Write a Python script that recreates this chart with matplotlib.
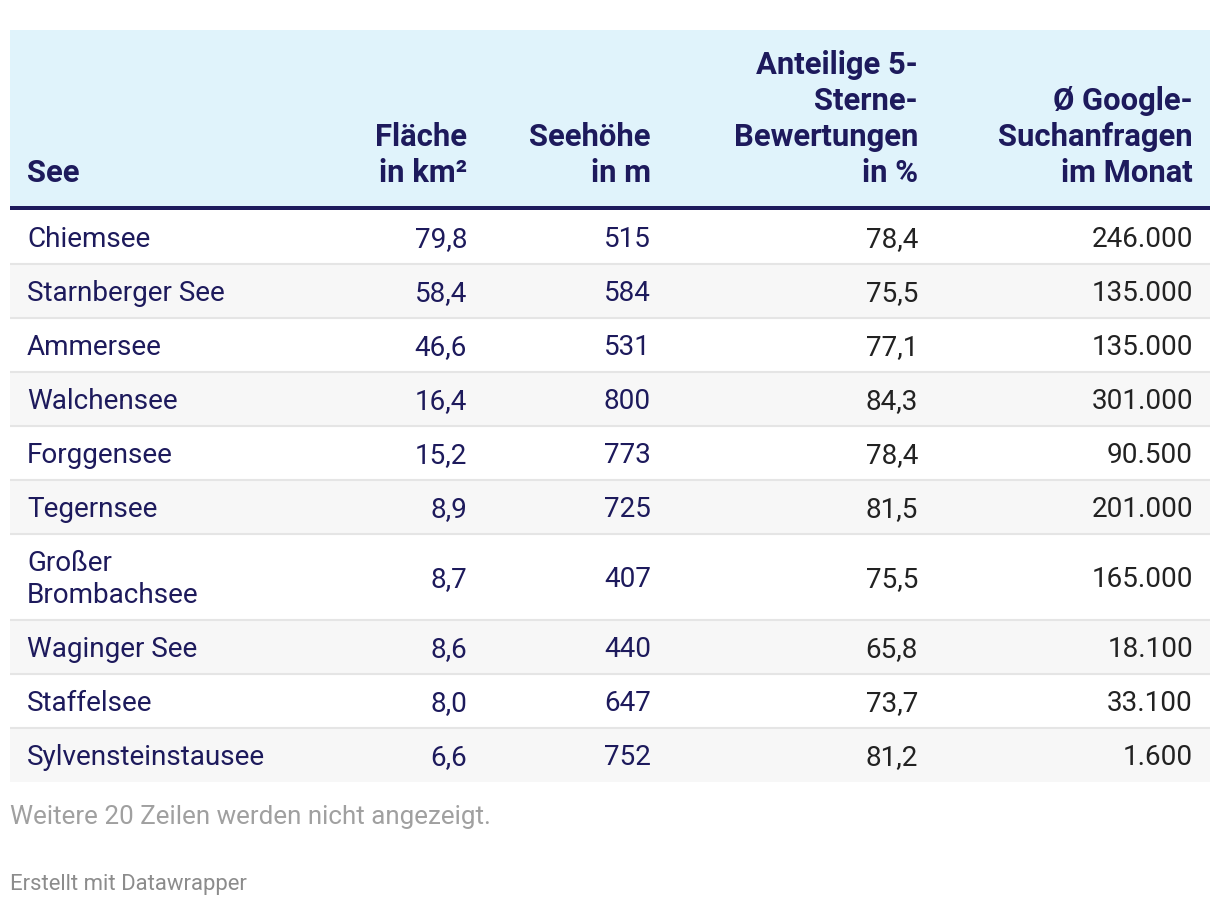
import textwrap
import matplotlib.pyplot as plt
from matplotlib.patches import Rectangle

# Daten: die 10 größten Seen in Bayern
seen = ["Chiemsee", "Starnberger See", "Ammersee", "Walchensee", "Forggensee",
        "Tegernsee", "Großer Brombachsee", "Waginger See", "Staffelsee",
        "Sylvensteinstausee"]
flaeche = [79.8, 58.4, 46.6, 16.4, 15.2, 8.9, 8.7, 8.6, 8.0, 6.6]
seehoehe = [515, 584, 531, 800, 773, 725, 407, 440, 647, 752]
sterne = [78.4, 75.5, 77.1, 84.3, 78.4, 81.5, 75.5, 65.8, 73.7, 81.2]
google = [246000, 135000, 135000, 301000, 90500, 201000, 165000, 18100, 33100, 1600]

header = [["See"], ["Fläche", "in km²"], ["Seehöhe", "in m"],
          ["Anteilige 5-", "Sterne-", "Bewertungen", "in %"],
          ["Ø Google-", "Suchanfragen", "im Monat"]]
fussnote = "Weitere 20 Zeilen werden nicht angezeigt."
quelle = "Erstellt mit Datawrapper"

NAVY = "#1d1a5c"
DARK = "#222222"
plt.rcParams['font.family'] = ['Roboto', 'DejaVu Sans']

def de1(v):
    return f"{v:.1f}".replace(".", ",")

def de_int(v):
    return f"{v:,}".replace(",", ".")

W, H = 1220, 906
fig = plt.figure(figsize=(W/100, H/100), dpi=100)
ax = fig.add_axes([0, 0, 1, 1])
ax.set_xlim(0, W); ax.set_ylim(H, 0); ax.axis('off')

x0, x1 = 10, 1210
xl = 27
xr = [467, 651, 918, 1193]
fs = 20.1
fs_head = 22.3
lh_head, lh_row = 36, 32

# Kopfzeile
ax.add_patch(Rectangle((x0, 30), x1 - x0, 177, color="#e0f3fb", lw=0))
base = 182
for j, lines in enumerate(header):
    for k, line in enumerate(lines):
        y = base - (len(lines) - 1 - k) * lh_head
        if j == 0:
            ax.text(xl, y, line, ha='left', va='baseline', fontsize=fs_head,
                    fontweight='bold', color=NAVY)
        else:
            ax.text(xr[j-1], y, line, ha='right', va='baseline', fontsize=fs_head,
                    fontweight='bold', color=NAVY)
ax.add_patch(Rectangle((x0, 206), x1 - x0, 4, color=NAVY, lw=0))

# Zeilen
y = 210
for i, name in enumerate(seen):
    lines = textwrap.wrap(name, 16, break_long_words=False)
    h = 54 + lh_row * (len(lines) - 1)
    if i % 2 == 1:
        ax.add_patch(Rectangle((x0, y), x1 - x0, h, color="#f7f7f7", lw=0))
    if i < len(seen) - 1:
        ax.plot([x0, x1], [y + h, y + h], color="#e5e5e5", lw=1.5,
                solid_capstyle='butt')
    mid = y + h / 2 + 10
    for k, line in enumerate(lines):
        yy = mid - (len(lines) - 1) * lh_row / 2 + k * lh_row
        ax.text(xl, yy, line, ha='left', va='baseline', fontsize=fs, color=NAVY)
    vals = [(de1(flaeche[i]), NAVY), (str(seehoehe[i]), NAVY),
            (de1(sterne[i]), DARK), (de_int(google[i]), DARK)]
    for (txt, c), xx in zip(vals, xr):
        ax.text(xx, mid, txt, ha='right', va='baseline', fontsize=fs, color=c)
    y += h

ax.text(x0, 824, fussnote, ha='left', va='baseline', fontsize=18.7, color="#a0a0a0")
ax.text(x0, 890, quelle, ha='left', va='baseline', fontsize=15.9, color="#8c8c8c")

fig.savefig("out.png", dpi=100)
